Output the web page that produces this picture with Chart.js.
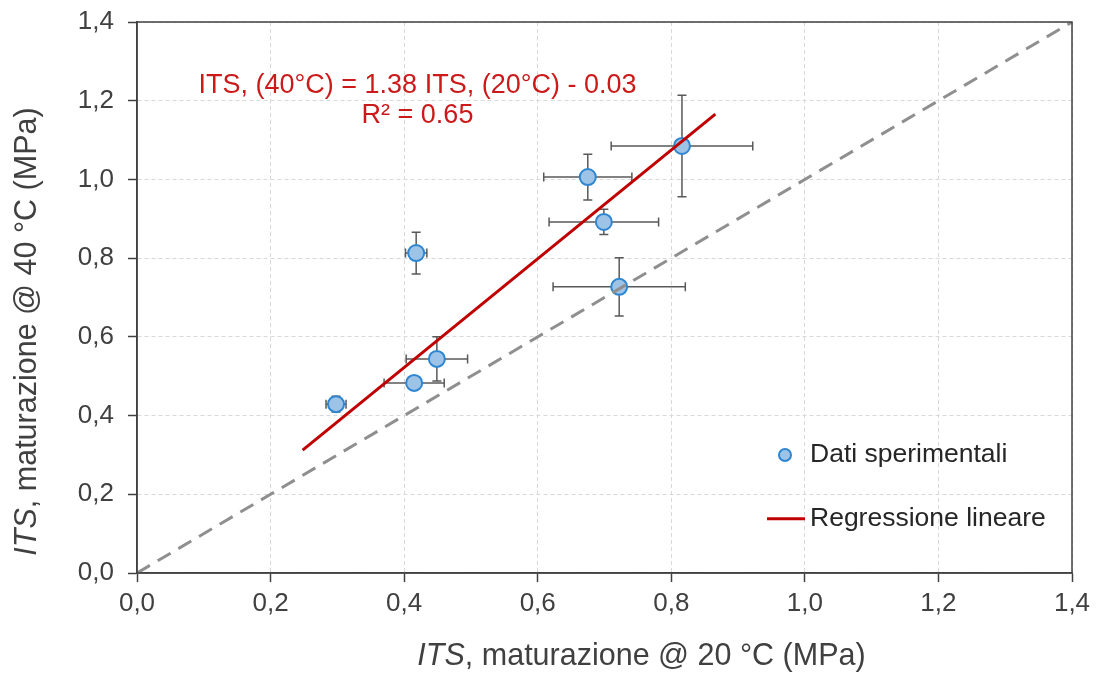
<!DOCTYPE html>
<html>
<head>
<meta charset="utf-8">
<script src="https://cdn.jsdelivr.net/npm/chart.js@4/dist/chart.umd.min.js"></script>
<style>
  html, body { margin: 0; padding: 0; background: #fff; }
  #wrap { width: 1098px; height: 677px; position: relative; }
</style>
</head>
<body>
<div id="wrap"><canvas id="c" width="1098" height="677"></canvas></div>
<script>
/* ITS 40 °C vs 20 °C scatter with error bars, regression and 1:1 line */

const TICKS = [0, 0.2, 0.4, 0.6, 0.8, 1.0, 1.2, 1.4];

// experimental points (MPa)
const ptX = [0.298, 0.415, 0.449, 0.418, 0.675, 0.699, 0.722, 0.816];
const ptY = [0.429, 0.483, 0.544, 0.813, 1.006, 0.892, 0.727, 1.085];
// half-widths of the error bars
const errX = [0.015, 0.045, 0.046, 0.016, 0.066, 0.082, 0.099, 0.106];
const errY = [0.020, 0.015, 0.056, 0.053, 0.058, 0.032, 0.074, 0.129];

// regression line end points
const regX = [0.248, 0.866];
const regY = [0.312, 1.166];

// 1:1 reference line
const eqX = [0, 1.4];
const eqY = [0, 1.4];

const C = {
  fill: "#9DC3E6",
  edge: "#2E86D1",
  red: "#C00000",
  redText: "#CC1A1A",
  grey: "#8F8F8F",
  err: "#595959",
  axis: "#404040",
  grid: "#D9D9D9",
  text: "#404040",
};
const FONT = "'Liberation Sans', Arial, sans-serif";

const fmt = v => v.toFixed(1).replace(".", ",");
const pairs = (xs, ys) => xs.map((x, i) => ({ x, y: ys[i] }));

// error bars, drawn under the markers
const errorBars = {
  id: "errorBars",
  beforeDatasetsDraw(chart) {
    const { ctx, scales: { x, y } } = chart;
    const cap = 4.5;
    ctx.save();
    ctx.strokeStyle = C.err;
    ctx.lineWidth = 1.5;
    ptX.forEach((v, i) => {
      const px = x.getPixelForValue(v), py = y.getPixelForValue(ptY[i]);
      const x0 = x.getPixelForValue(v - errX[i]), x1 = x.getPixelForValue(v + errX[i]);
      const y0 = y.getPixelForValue(ptY[i] - errY[i]), y1 = y.getPixelForValue(ptY[i] + errY[i]);
      ctx.beginPath();
      ctx.moveTo(x0, py); ctx.lineTo(x1, py);
      ctx.moveTo(x0, py - cap); ctx.lineTo(x0, py + cap);
      ctx.moveTo(x1, py - cap); ctx.lineTo(x1, py + cap);
      ctx.moveTo(px, y0); ctx.lineTo(px, y1);
      ctx.moveTo(px - cap, y0); ctx.lineTo(px + cap, y0);
      ctx.moveTo(px - cap, y1); ctx.lineTo(px + cap, y1);
      ctx.stroke();
    });
    ctx.restore();
  },
};

// frame, titles, equation, legend
const decor = {
  id: "decor",
  afterDraw(chart) {
    const { ctx, chartArea: a, scales: { x, y } } = chart;
    ctx.save();

    // plot box
    ctx.strokeStyle = C.axis;
    ctx.lineWidth = 1.5;
    ctx.strokeRect(a.left, a.top, a.right - a.left, a.bottom - a.top);

    // axis titles with italic "ITS"
    const titleSize = 30.5;
    const it = `italic ${titleSize}px ${FONT}`, rg = `${titleSize}px ${FONT}`;
    const drawTitle = (rest, cx, cy) => {
      ctx.font = it; const w1 = ctx.measureText("ITS").width;
      ctx.font = rg; const w2 = ctx.measureText(rest).width;
      let sx = cx - (w1 + w2) / 2;
      ctx.fillStyle = C.text;
      ctx.textBaseline = "middle";
      ctx.textAlign = "left";
      ctx.font = it; ctx.fillText("ITS", sx, cy);
      ctx.font = rg; ctx.fillText(rest, sx + w1, cy);
    };
    const midX = (a.left + a.right) / 2, midY = (a.top + a.bottom) / 2;
    drawTitle(", maturazione @ 20 °C (MPa)", midX + 37, chart.height - 20);
    ctx.save();
    ctx.translate(28, midY + 34);
    ctx.rotate(-Math.PI / 2);
    drawTitle(", maturazione @ 40 °C (MPa)", 0, 0);
    ctx.restore();

    // regression equation
    ctx.fillStyle = C.redText;
    ctx.font = `27px ${FONT}`;
    ctx.textAlign = "center";
    ctx.textBaseline = "alphabetic";
    const ex = x.getPixelForValue(0.42);
    ctx.fillText("ITS, (40°C) = 1.38 ITS, (20°C) - 0.03", ex, y.getPixelForValue(1.22));
    ctx.fillText("R² = 0.65", ex, y.getPixelForValue(1.144));

    // legend
    const lx = a.right - 287;
    const l1 = y.getPixelForValue(0.3), l2 = y.getPixelForValue(0.138);
    ctx.beginPath();
    ctx.arc(lx, l1, 6, 0, Math.PI * 2);
    ctx.fillStyle = C.fill; ctx.fill();
    ctx.lineWidth = 2; ctx.strokeStyle = C.edge; ctx.stroke();
    ctx.beginPath();
    ctx.moveTo(lx - 18, l2); ctx.lineTo(lx + 20, l2);
    ctx.lineWidth = 3; ctx.strokeStyle = C.red; ctx.stroke();
    ctx.fillStyle = "#262626";
    ctx.font = `26.5px ${FONT}`;
    ctx.textAlign = "left";
    ctx.textBaseline = "middle";
    ctx.fillText("Dati sperimentali", lx + 25, l1);
    ctx.fillText("Regressione lineare", lx + 25, l2);

    ctx.restore();
  },
};

const axisOpts = (extra) => ({
  type: "linear",
  min: 0, max: 1.4,
  afterBuildTicks: s => { s.ticks = TICKS.map(v => ({ value: v })); },
  grid: {
    color: C.grid, lineWidth: 1,
    drawTicks: true, tickLength: 9, tickColor: C.axis, tickWidth: 1.5,
  },
  border: { display: true, color: C.axis, width: 1.5, dash: [4, 3] },
  ...extra,
});

new Chart(document.getElementById("c"), {
  type: "scatter",
  data: {
    datasets: [
      {
        label: "Regressione lineare",
        type: "line",
        data: pairs(regX, regY),
        borderColor: C.red, borderWidth: 3,
        pointRadius: 0, fill: false, order: 0,
      },
      {
        label: "1:1",
        type: "line",
        data: pairs(eqX, eqY),
        borderColor: C.grey, borderWidth: 3, borderDash: [15, 9],
        pointRadius: 0, fill: false, order: 1,
      },
      {
        label: "Dati sperimentali",
        data: pairs(ptX, ptY),
        backgroundColor: C.fill, borderColor: C.edge,
        borderWidth: 2, pointRadius: 8, order: 2,
      },
    ],
  },
  options: {
    responsive: false,
    animation: false,
    layout: { padding: { top: 22, right: 26, left: 0, bottom: 0 } },
    plugins: { legend: { display: false }, tooltip: { enabled: false } },
    scales: {
      x: axisOpts({
        position: "bottom",
        afterFit: s => { s.height = 104; s.paddingLeft = 0; s.paddingRight = 0; },
        ticks: {
          color: C.text, font: { family: FONT, size: 26 },
          callback: v => fmt(v), maxRotation: 0, autoSkip: false, padding: 6,
        },
      }),
      y: axisOpts({
        position: "left",
        afterFit: s => { s.width = 137; s.paddingTop = 0; s.paddingBottom = 0; },
        ticks: {
          color: C.text, font: { family: FONT, size: 26 },
          callback: v => fmt(v), autoSkip: false, padding: 14,
        },
      }),
    },
  },
  plugins: [errorBars, decor],
});
</script>
</body>
</html>
